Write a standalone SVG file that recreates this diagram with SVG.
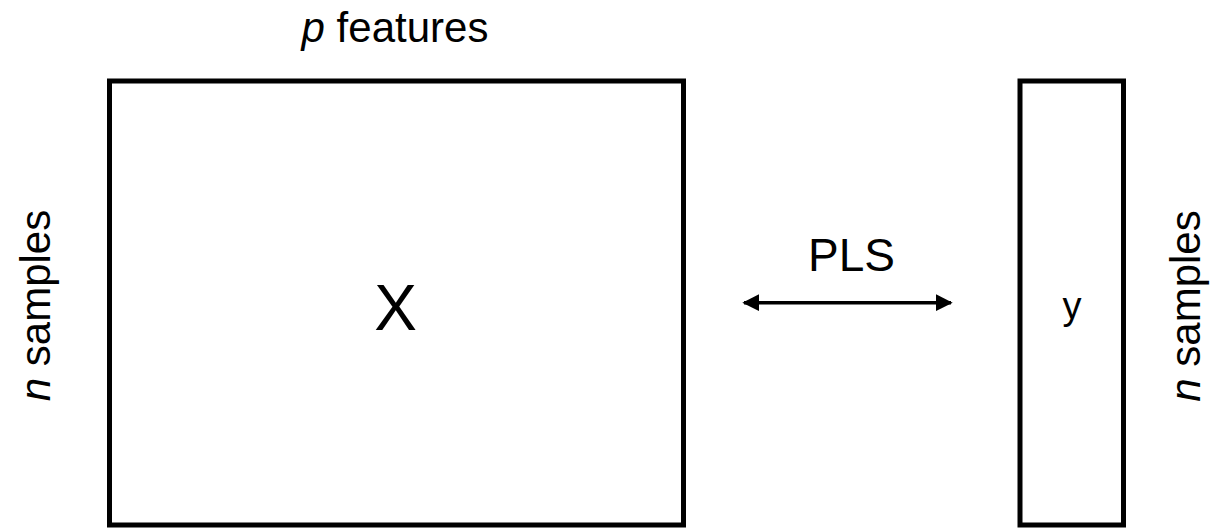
<svg xmlns="http://www.w3.org/2000/svg" width="1212" height="528" viewBox="0 0 1212 528">
<style>
text{font-family:"Liberation Sans","Noto Sans",sans-serif;fill:#000}
.box{fill:#fff;stroke:#000;stroke-width:5}
.lbl{font-size:42px}
</style>
<defs>
<marker id="ah" viewBox="0 0 10 10" refX="9" refY="5" markerWidth="5" markerHeight="4.8" markerUnits="strokeWidth" orient="auto-start-reverse">
<path d="M0,0 L10,5 L0,10 z" fill="#000"/>
</marker>
</defs>
<rect width="1212" height="528" fill="#fff"/>
<g id="label-p"><text class="lbl" x="395" y="42" text-anchor="middle"><tspan font-style="italic">p</tspan> features</text></g>
<g id="node-X">
<rect class="box" x="109.5" y="81" width="574" height="444"/>
<text x="395.5" y="330" font-size="64" text-anchor="middle">X</text>
</g>
<g id="node-y">
<rect class="box" x="1020" y="81" width="103.5" height="444"/>
<text x="1072" y="319" font-size="38" text-anchor="middle">y</text>
</g>
<g id="label-n-left"><text class="lbl" transform="translate(50,305.5) rotate(-90)" text-anchor="middle"><tspan font-style="italic">n</tspan> samples</text></g>
<g id="label-n-right"><text class="lbl" transform="translate(1200,306) rotate(-90)" text-anchor="middle"><tspan font-style="italic">n</tspan> samples</text></g>
<g id="connectors">
<line x1="744" y1="302.7" x2="951" y2="302.7" stroke="#000" stroke-width="3.5" marker-start="url(#ah)" marker-end="url(#ah)"/>
<text x="851.5" y="271" font-size="46" text-anchor="middle">PLS</text>
</g>
</svg>
